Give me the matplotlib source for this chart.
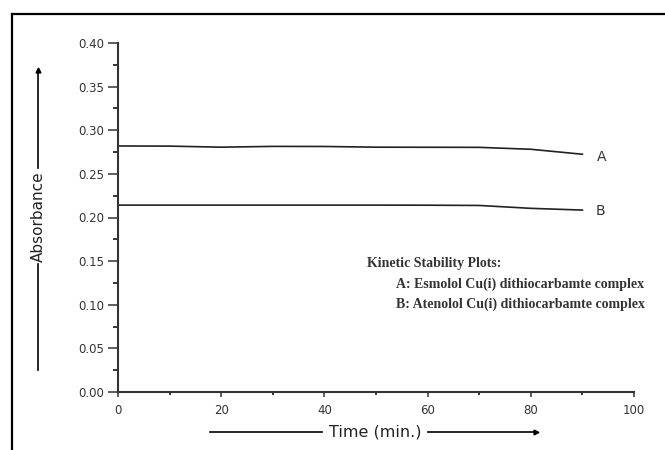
import matplotlib.pyplot as plt
from matplotlib.lines import Line2D
from matplotlib.ticker import MultipleLocator

# kinetic stability data
time_min = [0, 10, 20, 30, 40, 50, 60, 70, 80, 90]
abs_a = [0.282, 0.2818, 0.2806, 0.2815, 0.2814, 0.2806, 0.2805, 0.2804, 0.2782, 0.2725]
abs_b = [0.2142, 0.2142, 0.2142, 0.2142, 0.2142, 0.2142, 0.2141, 0.2138, 0.2105, 0.2085]
curve_names = ['A', 'B']
legend_title = 'Kinetic Stability Plots:'
legend_lines = ['A: Esmolol Cu(i) dithiocarbamte complex',
                'B: Atenolol Cu(i) dithiocarbamte complex']

W, H = 665, 450
fig = plt.figure(figsize=(W / 100, H / 100), dpi=100)

def fx(px):
    return px / W

def fy(py):
    return 1 - py / H

ax = fig.add_axes([fx(118), fy(392), fx(634) - fx(118), fy(43) - fy(392)])

ax.plot(time_min, abs_a, color='#222222', lw=1.2)
ax.plot(time_min, abs_b, color='#222222', lw=1.2)
ax.text(93.8, 0.2695, curve_names[0], fontsize=10, family='DejaVu Sans',
        ha='center', va='center', color='#333333')
ax.text(93.4, 0.207, curve_names[1], fontsize=10, family='DejaVu Sans',
        ha='center', va='center', color='#333333')

ax.set_xlim(0, 100)
ax.set_ylim(0, 0.40)
ax.xaxis.set_major_locator(MultipleLocator(20))
ax.xaxis.set_minor_locator(MultipleLocator(10))
ax.yaxis.set_major_locator(MultipleLocator(0.05))
ax.yaxis.set_minor_locator(MultipleLocator(0.025))
ax.yaxis.set_major_formatter(plt.FormatStrFormatter('%.2f'))

for s in ['top', 'right']:
    ax.spines[s].set_visible(False)
for s in ['left', 'bottom']:
    ax.spines[s].set_linewidth(1.5)
    ax.spines[s].set_color('#333333')

ax.tick_params(axis='y', which='major', length=7, width=1.1, pad=3,
               labelsize=8.5, colors='#333333')
ax.tick_params(axis='y', which='minor', length=3.5, width=1.1)
ax.tick_params(axis='x', which='major', length=3.6, width=1.1, pad=5,
               labelsize=8.5, colors='#333333')
ax.tick_params(axis='x', which='minor', length=2.2, width=1.1)
for lab in ax.get_xticklabels() + ax.get_yticklabels():
    lab.set_family('DejaVu Sans')

# legend-like note
note_kw = dict(family='Liberation Serif', fontsize=10, weight='bold',
               va='center', color='#333333')
fig.text(fx(367), fy(264), legend_title, **note_kw)
fig.text(fx(396), fy(284), legend_lines[0], **note_kw)
fig.text(fx(396), fy(304), legend_lines[1], **note_kw)

# axis titles with arrows
fig.text(fx(38), fy(217), 'Absorbance', rotation=90, family='DejaVu Sans',
         fontsize=11, ha='center', va='center', color='#222222')
fig.add_artist(Line2D([fx(38), fx(38)], [fy(370), fy(264)], color='black', lw=1.2))
fig.add_artist(Line2D([fx(38), fx(38)], [fy(168), fy(70)], color='black', lw=1.2))
fig.add_artist(Line2D([fx(38)], [fy(70)], marker='^', ms=3.5, color='black'))

fig.text(fx(375), fy(432), 'Time (min.)', family='DejaVu Sans',
         fontsize=11.5, ha='center', va='center', color='#222222')
fig.add_artist(Line2D([fx(210), fx(322)], [fy(432), fy(432)], color='black', lw=1.2))
fig.add_artist(Line2D([fx(428), fx(535)], [fy(432), fy(432)], color='black', lw=1.2))
fig.add_artist(Line2D([fx(536)], [fy(432)], marker='>', ms=3.5, color='black'))

# outer frame (left and top edges visible)
fig.add_artist(Line2D([fx(12), fx(12)], [fy(450), fy(14)], color='black', lw=1.6))
fig.add_artist(Line2D([fx(12), fx(665)], [fy(14), fy(14)], color='black', lw=1.6))

fig.savefig('out.png', dpi=100)
